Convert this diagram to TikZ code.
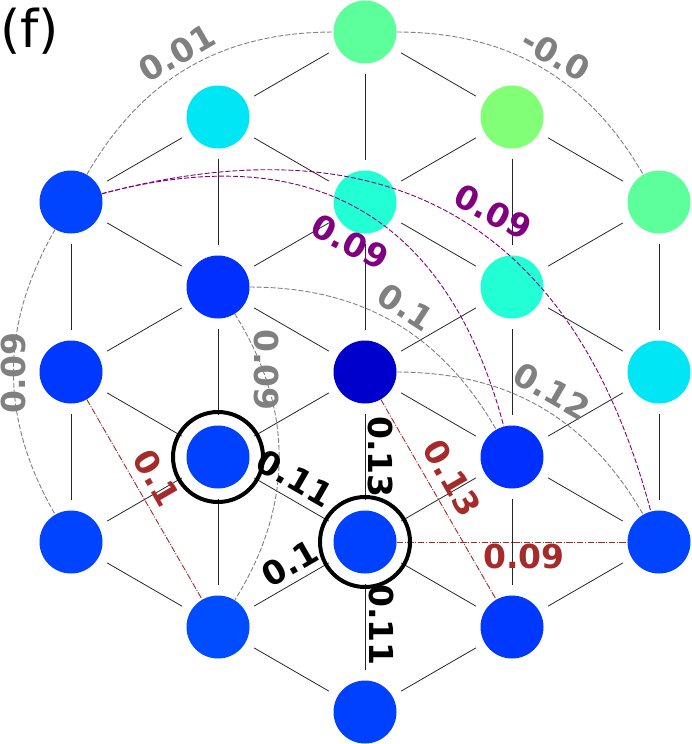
\documentclass[tikz,border=0pt]{standalone}
\usepackage{fontspec}
\setmainfont{DejaVu Sans}
\definecolor{deepblue}{HTML}{0000CD}
\definecolor{blueA}{HTML}{0030FF}
\definecolor{blueB}{HTML}{0038FF}
\definecolor{blueC}{HTML}{0040FF}
\definecolor{blueD}{HTML}{0044FF}
\definecolor{blueE}{HTML}{004CFF}
\definecolor{skyc}{HTML}{00E6F5}
\definecolor{aqua}{HTML}{23FFD4}
\definecolor{mint}{HTML}{5CFF9A}
\definecolor{lime}{HTML}{80FF77}
\definecolor{labgray}{HTML}{808080}
\definecolor{labpurple}{HTML}{800080}
\definecolor{labred}{HTML}{A52A2A}
\begin{document}
\begin{tikzpicture}[x=1pt, y=-1pt, line join=round,
		site/.style={circle, minimum size=63pt, inner sep=0pt, draw=none},
		bond/.style={black!85, line width=0.8pt, shorten <=10pt, shorten >=10pt},
		far/.style={labgray, line width=0.9pt, dash pattern=on 5pt off 2pt},
		pair/.style={labpurple, line width=0.9pt, dash pattern=on 5pt off 2pt},
		cut/.style={labred, line width=0.9pt, dash pattern=on 6.4pt off 1.6pt on 1pt off 1.6pt},
		ring/.style={black, line width=4pt},
		lab/.style={font=\fontsize{33}{33}\selectfont\bfseries, inner sep=0pt}]
				\useasboundingbox (0,0) rectangle (692,744);
				\foreach \c/\k/\col in {2/0/mint, 1/1/skyc, 3/1/lime, 0/2/blueD, 2/2/aqua, 4/2/mint,
						1/3/blueA, 3/3/aqua, 0/4/blueB, 2/4/deepblue, 4/4/skyc, 1/5/blueC, 3/5/blueA,
						0/6/blueD, 2/6/blueC, 4/6/blueD, 1/7/blueE, 3/7/blueB, 2/8/blueC}
					\node[site, fill=\col] (v\c\k) at ({71+147*\c}, {32+85*\k}) {};
				\foreach \a/\b in {20/22, 22/24, 24/26, 26/28, 11/13, 13/15, 15/17, 31/33, 33/35, 35/37,
						02/04, 04/06, 42/44, 44/46,
						20/31, 11/22, 31/42, 02/13, 22/33, 13/24, 33/44, 04/15, 24/35, 15/26, 35/46,
						06/17, 26/37, 17/28,
						11/20, 02/11, 22/31, 13/22, 33/42, 04/13, 24/33, 15/24, 35/44, 06/15, 26/35,
						17/26, 37/46, 28/37}
					\draw[bond] (v\a) -- (v\b);
				\draw[far] (v02) to[bend left=30] (v20);
				\draw[far] (v20) to[bend left=30] (v42);
				\draw[far] (v02) to[bend right=30] (v06);
				\draw[far] (v13) to[bend left=32] (v17);
				\draw[far] (v13) to[bend left=30] (v35);
				\draw[far] (v24) to[bend left=30] (v46);
				\draw[pair] (v02) to[bend left=45, looseness=1.2] (v35);
				\draw[pair] (v02) to[bend left=45, looseness=1.2] (v46);
				\draw[cut] (v04) -- (v17);
				\draw[cut] (v24) -- (v37);
				\draw[cut] (v26) -- (v46);
				\draw[ring] (v15.center) circle[radius=45pt];
				\draw[ring] (v26.center) circle[radius=45pt];
				\foreach \nm/\x/\y/\r/\t/\col in {j1/177/53/30/0.01/labgray, j2/556/55/-30/-0.0/labgray,
						j3/13/373/90/0.09/labgray, j4/267/370/-90/0.09/labgray, j5/406/307/-33/0.1/labgray,
						j6/552/391/-30/0.12/labgray, j7/493/212/-28/0.09/labpurple, j8/350/242/-28/0.09/labpurple,
						j9/157/478/-60/0.1/labred, j10/452/478/-60/0.13/labred, j11/524/556/0/0.09/labred,
						j12/295/478/-30/0.11/black, j13/381/457/-90/0.13/black, j14/290/563/30/0.1/black,
						j15/382/625/-90/0.11/black}
					\node[lab, text=\col, rotate=\r] (\nm) at (\x,\y) {\t};
				\node[anchor=base west, inner sep=0pt, font=\fontsize{52}{52}\selectfont] (tag) at (0,47) {(f)};
			\end{tikzpicture}
\end{document}
